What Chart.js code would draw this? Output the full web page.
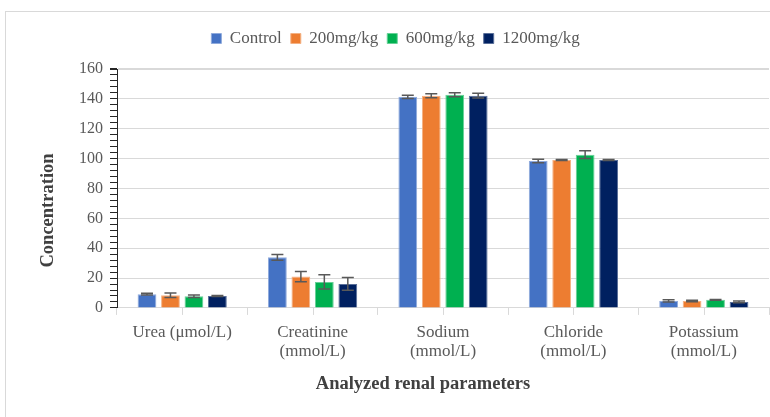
<!DOCTYPE html>
<html lang="en">
<head>
  <meta charset="UTF-8" />
  <title>Renal parameters</title>
  <script src="https://cdn.jsdelivr.net/npm/chart.js"></script>
  <style>
    body { margin: 0; background: #fff; }
    #wrap { position: relative; width: 770px; height: 417px; overflow: hidden; }
    #frame { position: absolute; left: 5px; top: 11px; width: 800px; height: 440px; border: 1px solid #d9d9d9; }
    #chartBox { position: absolute; left: 0; top: 0; width: 770px; height: 417px; }
  </style>
</head>
<body>
  <div id="wrap">
    <div id="frame"></div>
    <div id="chartBox"><canvas id="renalChart"></canvas></div>
  </div>

  <script>
    const categories = [
      ['Urea (\u03bcmol/L)'],
      ['Creatinine', '(mmol/L)'],
      ['Sodium', '(mmol/L)'],
      ['Chloride', '(mmol/L)'],
      ['Potassium', '(mmol/L)']
    ];
    const seriesNames = ['Control', '200mg/kg', '600mg/kg', '1200mg/kg'];
    const control = [9.2, 33.9, 141.4, 98.4, 4.7];
    const dose200 = [8.5, 21.0, 142.1, 99.1, 4.7];
    const dose600 = [7.8, 17.4, 142.8, 102.6, 5.4];
    const dose1200 = [8.0, 16.1, 142.1, 99.1, 4.0];
    const controlErr = [0.6, 1.9, 1.1, 1.2, 0.8];
    const dose200Err = [1.5, 3.4, 1.3, 0.3, 0.5];
    const dose600Err = [0.9, 4.8, 1.3, 2.6, 0.3];
    const dose1200Err = [0.4, 4.3, 1.6, 0.3, 0.6];

    const colors = ['#4472c4', '#ed7d31', '#00b050', '#002060'];
    const edges = ['#8faadc', '#f4b183', '#66d096', '#5a6f99'];
    const values = [control, dose200, dose600, dose1200];
    const errors = [controlErr, dose200Err, dose600Err, dose1200Err];

    const FONT = "'Liberation Serif', 'Times New Roman', serif";

    // error bars, centre ticks on the x axis and the two axis titles
    const extras = {
      id: 'extras',
      beforeInit(chart) {
        // leave some room under the legend, like the original
        const legend = chart.legend;
        if (legend) {
          const fit = legend.fit;
          legend.fit = function () { fit.call(this); this.height += 12; };
        }
      },
      afterDatasetsDraw(chart) {
        const ctx = chart.ctx;
        const y = chart.scales.y;
        ctx.save();
        ctx.strokeStyle = '#595959';
        ctx.lineWidth = 1.5;
        values.forEach((vals, i) => {
          chart.getDatasetMeta(i).data.forEach((bar, j) => {
            const top = y.getPixelForValue(vals[j] + errors[i][j]);
            const bot = y.getPixelForValue(vals[j] - errors[i][j]);
            ctx.beginPath();
            ctx.moveTo(bar.x, top); ctx.lineTo(bar.x, bot);
            ctx.moveTo(bar.x - 6, top); ctx.lineTo(bar.x + 6, top);
            ctx.moveTo(bar.x - 6, bot); ctx.lineTo(bar.x + 6, bot);
            ctx.stroke();
          });
        });
        ctx.restore();
      },
      afterDraw(chart) {
        const ctx = chart.ctx;
        const a = chart.chartArea;
        const x = chart.scales.x;
        ctx.save();
        ctx.strokeStyle = '#d9d9d9';
        ctx.lineWidth = 1;
        categories.forEach((c, i) => {
          const px = Math.round(x.getPixelForValue(i)) + 0.5;
          ctx.beginPath();
          ctx.moveTo(px, a.bottom); ctx.lineTo(px, a.bottom + 7);
          ctx.stroke();
        });
        ctx.fillStyle = '#404040';
        ctx.font = 'bold 18.5px ' + FONT;
        ctx.textAlign = 'center';
        ctx.textBaseline = 'middle';
        ctx.fillText('Analyzed renal parameters', (a.left + a.right) / 2 - 20, 384);
        ctx.translate(48, (a.top + a.bottom) / 2 + 22);
        ctx.rotate(-Math.PI / 2);
        ctx.fillText('Concentration', 0, 0);
        ctx.restore();
      }
    };

    new Chart(document.getElementById('renalChart'), {
      type: 'bar',
      data: {
        labels: categories,
        datasets: seriesNames.map((name, i) => ({
          label: name,
          data: values[i],
          backgroundColor: colors[i],
          borderColor: edges[i],
          borderWidth: 1,
          categoryPercentage: 0.72,
          barPercentage: 0.8
        }))
      },
      options: {
        responsive: true,
        maintainAspectRatio: false,
        animation: false,
        layout: { padding: { left: 22, right: 1, top: 21, bottom: 48 } },
        plugins: {
          tooltip: { enabled: false },
          legend: {
            position: 'top',
            labels: {
              boxWidth: 10,
              boxHeight: 10,
              padding: 9,
              color: '#595959',
              font: { family: FONT, size: 17 }
            }
          }
        },
        scales: {
          x: {
            grid: { drawOnChartArea: false, tickLength: 7, tickColor: '#d9d9d9' },
            border: { color: '#d9d9d9' },
            ticks: {
              color: '#595959',
              padding: 8,
              maxRotation: 0,
              font: { family: FONT, size: 17, lineHeight: 1.12 }
            }
          },
          y: {
            min: 0,
            max: 160,
            afterFit: s => { s.width = 95; },
            grid: {
              color: c => (c.tick && c.tick.value % 20 === 0) ? '#d9d9d9' : 'rgba(0,0,0,0)',
              lineWidth: c => (c.tick && c.tick.value === 160) ? 2 : 1,
              tickLength: 7,
              tickColor: '#262626'
            },
            border: { color: '#262626' },
            ticks: {
              stepSize: 4,
              autoSkip: false,
              padding: 7,
              color: '#595959',
              font: { family: FONT, size: 16 },
              callback: v => (v % 20 === 0 ? v : '')
            }
          }
        }
      },
      plugins: [extras]
    });
  </script>
</body>
</html>
